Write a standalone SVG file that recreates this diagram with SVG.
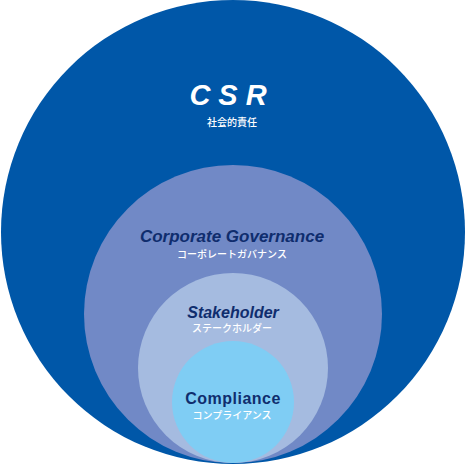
<svg xmlns="http://www.w3.org/2000/svg" width="466" height="465" viewBox="0 0 466 465">
<style>
.en{font-family:"Liberation Sans",Arial,sans-serif;font-weight:bold;font-style:italic;fill:#0f2d6e;text-anchor:middle}
.up{font-style:normal}
.jp{font-family:"Noto Sans CJK JP",sans-serif;fill:#ffffff;text-anchor:middle;font-size:10px;font-weight:500}
</style>
<rect width="466" height="465" fill="#ffffff"/>
<g id="csr">
<circle cx="233" cy="232" r="232" fill="#0057a8"/>
<text x="232" y="105" font-family="Liberation Sans,Arial,sans-serif" font-weight="bold" font-style="italic" font-size="29" fill="#ffffff" text-anchor="middle" letter-spacing="8">CSR</text>
<text class="jp" x="232" y="126">社会的責任</text>
</g>
<g id="governance">
<circle cx="233" cy="314" r="149" fill="#7189c6"/>
<text class="en" x="232" y="242" font-size="17">Corporate Governance</text>
<text class="jp" x="232" y="258">コーポレートガバナンス</text>
</g>
<g id="stakeholder">
<circle cx="233" cy="368" r="95" fill="#a5bbe0"/>
<text class="en" x="233" y="318" font-size="16">Stakeholder</text>
<text class="jp" x="232" y="332">ステークホルダー</text>
</g>
<g id="compliance">
<circle cx="233" cy="402" r="61" fill="#7fcdf4"/>
<text class="en up" x="233" y="404" font-size="16" letter-spacing="0.5">Compliance</text>
<text class="jp" x="232" y="419">コンプライアンス</text>
</g>
<g id="connectors"/>
</svg>
